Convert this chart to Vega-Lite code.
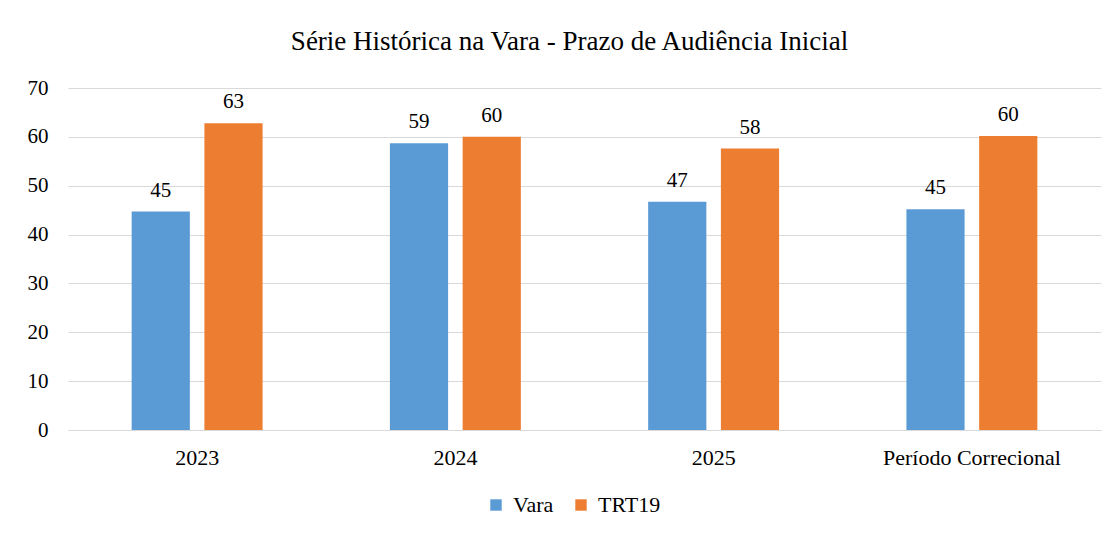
{
  "$schema": "https://vega.github.io/schema/vega-lite/v6.json",
  "autosize": "none",
  "width": 1033,
  "height": 342,
  "padding": {"left": 68, "top": 88, "right": 16, "bottom": 103},
  "background": "white",
  "title": {
    "text": "Série Histórica na Vara - Prazo de Audiência Inicial",
    "font": "Liberation Serif",
    "fontSize": 27,
    "fontWeight": "normal",
    "color": "#000000",
    "anchor": "middle",
    "dx": -15,
    "offset": 21
  },
  "data": {
    "values": [
      {"periodo": "2023", "serie": "Vara", "valor": 44.7},
      {"periodo": "2023", "serie": "TRT19", "valor": 62.8},
      {"periodo": "2024", "serie": "Vara", "valor": 58.7},
      {"periodo": "2024", "serie": "TRT19", "valor": 60.0},
      {"periodo": "2025", "serie": "Vara", "valor": 46.7},
      {"periodo": "2025", "serie": "TRT19", "valor": 57.6},
      {"periodo": "Período Correcional", "serie": "Vara", "valor": 45.2},
      {"periodo": "Período Correcional", "serie": "TRT19", "valor": 60.2}
    ]
  },
  "encoding": {
    "x": {
      "field": "periodo",
      "type": "nominal",
      "sort": ["2023", "2024", "2025", "Período Correcional"],
      "scale": {"paddingInner": 0.493, "paddingOuter": 0.2465},
      "axis": {
        "title": null,
        "labelAngle": 0,
        "labelFont": "Liberation Serif",
        "labelFontSize": 22,
        "labelColor": "#000000",
        "labelPadding": 17,
        "ticks": false,
        "domainColor": "#d9d9d9",
        "domainWidth": 1
      }
    },
    "xOffset": {
      "field": "serie",
      "type": "nominal",
      "sort": ["Vara", "TRT19"],
      "scale": {"paddingInner": 0.2}
    },
    "y": {
      "field": "valor",
      "type": "quantitative",
      "scale": {"domain": [0, 70], "nice": false},
      "axis": {
        "title": null,
        "values": [0, 10, 20, 30, 40, 50, 60, 70],
        "labelFont": "Liberation Serif",
        "labelFontSize": 21,
        "labelColor": "#000000",
        "labelPadding": 20,
        "ticks": false,
        "domain": false,
        "gridColor": "#d9d9d9",
        "gridWidth": 1
      }
    },
    "color": {
      "field": "serie",
      "type": "nominal",
      "sort": ["Vara", "TRT19"],
      "scale": {"domain": ["Vara", "TRT19"], "range": ["#5B9BD5", "#ED7D31"]},
      "legend": {
        "title": null,
        "orient": "none",
        "legendX": 417,
        "legendY": 406,
        "direction": "horizontal",
        "symbolType": "square",
        "symbolSize": 130,
        "symbolStrokeWidth": 0,
        "labelFont": "Liberation Serif",
        "labelFontSize": 22,
        "labelColor": "#000000",
        "columnPadding": 16,
        "labelOffset": 6
      }
    }
  },
  "layer": [
    {"mark": {"type": "bar"}},
    {
      "mark": {
        "type": "text",
        "font": "Liberation Serif",
        "fontSize": 21,
        "color": "#000000",
        "baseline": "alphabetic",
        "dy": -15
      },
      "encoding": {
        "text": {"field": "valor", "type": "quantitative", "format": ".0f"},
        "color": {"value": "#000000"}
      }
    }
  ],
  "config": {"view": {"stroke": null}}
}
